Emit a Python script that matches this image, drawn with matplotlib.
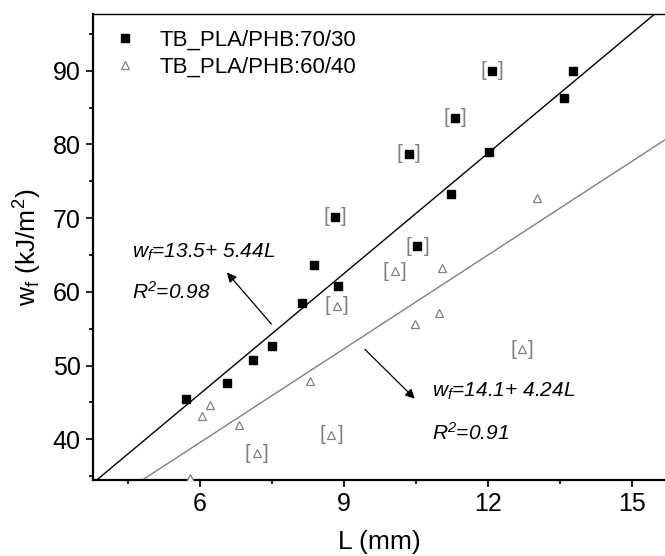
import matplotlib
matplotlib.use("Agg")
import matplotlib.pyplot as plt
from matplotlib import font_manager
import numpy as np

# 70/30 blend (squares) -- masked points drawn with brackets
L_7030 = [5.71, 6.56, 7.11, 7.51, 8.12, 8.39, 8.89, 11.23, 12.03, 13.59, 13.77]
w_7030 = [45.4, 47.7, 50.7, 52.6, 58.5, 63.6, 60.8, 73.25, 78.9, 86.25, 89.9]
L_7030_mask = [8.82, 10.35, 10.53, 11.32, 12.09]
w_7030_mask = [70.2, 78.7, 66.2, 83.6, 90.0]

# 60/40 blend (triangles)
L_6040 = [5.79, 6.04, 6.21, 6.82, 8.29, 10.48, 10.99, 11.05, 13.02]
w_6040 = [34.7, 43.2, 44.7, 41.9, 47.9, 55.6, 57.1, 63.2, 72.7]
L_6040_mask = [7.19, 8.74, 8.85, 10.06, 12.71]
w_6040_mask = [38.1, 40.6, 58.1, 62.8, 52.2]

fit_7030 = (13.5, 5.44)
fit_6040 = (14.1, 4.24)

names = [f.name for f in font_manager.fontManager.ttflist]
fam = "Liberation Sans Narrow" if "Liberation Sans Narrow" in names else "Liberation Sans"
plt.rcParams["font.family"] = [fam, "DejaVu Sans"]
plt.rcParams["mathtext.fontset"] = "custom"
plt.rcParams["mathtext.rm"] = fam
plt.rcParams["mathtext.it"] = fam + ":italic"

gray = "#808080"

fig = plt.figure(figsize=(6.65, 5.56), dpi=100)
ax = fig.add_axes([0.14, 0.137, 0.86, 0.838])

xs = np.array([3.0, 17.0])
ax.plot(xs, fit_7030[0] + fit_7030[1] * xs, color="black", lw=1.0, zorder=1)
ax.plot(xs, fit_6040[0] + fit_6040[1] * xs, color=gray, lw=1.0, zorder=1)

ax.plot(L_7030 + L_7030_mask, w_7030 + w_7030_mask, "s", color="black",
        ms=6, ls="none", label="TB_PLA/PHB:70/30", zorder=3)
ax.plot(L_6040 + L_6040_mask, w_6040 + w_6040_mask, "^", mfc="white", mec=gray,
        mew=0.9, ms=6, ls="none", label="TB_PLA/PHB:60/40", zorder=3)

for x, y in zip(L_7030_mask + L_6040_mask, w_7030_mask + w_6040_mask):
    for s, dx in (("[", -6.5), ("]", 6.5)):
        ax.annotate(s, (x, y), xytext=(dx, 0), textcoords="offset points",
                    ha="center", va="center", fontsize=15, color=gray, zorder=4)

ax.set_xlim(3.78, 15.69)
ax.set_ylim(34.5, 97.7)
ax.set_xticks([6, 9, 12, 15])
ax.set_xticks([4.5, 7.5, 10.5, 13.5], minor=True)
ax.set_yticks([40, 50, 60, 70, 80, 90])
ax.set_yticks([35, 45, 55, 65, 75, 85, 95], minor=True)
ax.tick_params(which="major", direction="out", length=5, width=1.2, labelsize=18, pad=4)
ax.tick_params(which="minor", direction="out", length=3, width=1.2)
ax.tick_params(top=False, right=False)

for side in ("left", "bottom"):
    ax.spines[side].set_linewidth(1.6)
ax.spines["top"].set_linewidth(1.0)
ax.spines["right"].set_visible(False)

ax.set_xlabel("L (mm)", fontsize=19, labelpad=10)
ax.set_ylabel(r"w$_\mathregular{f}$ (kJ/m$^\mathregular{2}$)", fontsize=19, labelpad=6)

ax.legend(loc="upper left", frameon=False, fontsize=16, handletextpad=0.8,
          borderaxespad=0.3, labelspacing=0.3, handlelength=1.5)

ax.text(4.59, 65.4, r"$w_f$=13.5+ 5.44L", style="italic", fontsize=15, va="center")
ax.text(4.59, 60.0, r"R$^\mathregular{2}$=0.98", style="italic", fontsize=15, va="center")
ax.annotate("", xy=(6.53, 62.9), xytext=(7.53, 55.35),
            arrowprops=dict(arrowstyle="-|>", color="black", lw=0.9, mutation_scale=14))

ax.text(10.84, 46.5, r"$w_f$=14.1+ 4.24L", style="italic", fontsize=15, va="center")
ax.text(10.84, 40.9, r"R$^\mathregular{2}$=0.91", style="italic", fontsize=15, va="center")
ax.annotate("", xy=(10.52, 45.24), xytext=(9.40, 52.46),
            arrowprops=dict(arrowstyle="-|>", color="black", lw=0.9, mutation_scale=14))

fig.savefig("out.png", dpi=100)
